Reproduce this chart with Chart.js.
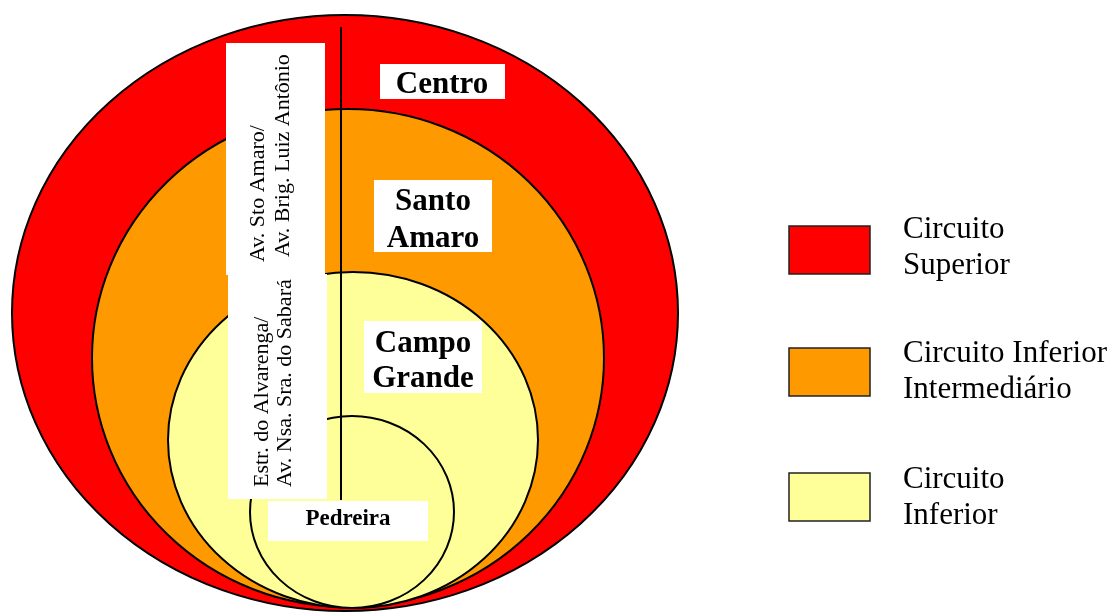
<!DOCTYPE html>
<html><head><meta charset="utf-8">
<script src="https://cdn.jsdelivr.net/npm/chart.js@4/dist/chart.umd.min.js"></script>
<style>html,body{margin:0;padding:0;background:#fff}#wrap{width:1117px;height:613px}</style>
</head><body><div id="wrap"><canvas id="c" width="1117" height="613"></canvas></div>
<script>
// ---- data ----
const zones = ['Centro', 'Santo Amaro', 'Campo Grande', 'Pedreira'];
const zoneLabelLines = [['Centro'], ['Santo', 'Amaro'], ['Campo', 'Grande'], ['Pedreira']];
const zoneCircuit = [0, 1, 2, 2];
const centerX = [345, 348, 353, 352];
const centerY = [313, 358, 440, 512];
const radiusX = [333, 256, 185, 102];
const radiusY = [298, 249, 168, 96];
const circuitLabels = [['Circuito', 'Superior'], ['Circuito Inferior', 'Intermediário'], ['Circuito', 'Inferior']];
const circuitColors = ['#FF0000', '#FF9900', '#FFFF99'];
const roadLabels = [['Av. Sto Amaro/', 'Av. Brig. Luiz Antônio'], ['Estr. do Alvarenga/', 'Av. Nsa. Sra. do Sabará']];
const dividerX = [341, 341];
const dividerY = [27, 500];

// ---- layout (pixels) ----
const zoneBoxes = [
  {r: [380, 64, 125, 35], cx: 442, base: [93], font: 'bold 31px "Liberation Serif"'},
  {r: [374, 180, 118, 72], cx: 433, base: [210, 247], font: 'bold 31px "Liberation Serif"'},
  {r: [364, 321, 118, 72], cx: 423, base: [352, 387], font: 'bold 31px "Liberation Serif"'},
  {r: [268, 501, 160, 40], cx: 348, base: [525], font: 'bold 23px "Liberation Serif"'}
];
const roadBoxes = [
  {r: [226, 43, 99, 232], xs: [258, 283], start: [262, 257], font: '22px "Liberation Serif"'},
  {r: [228, 274, 99, 225], xs: [262, 285], start: [487, 487], font: '22px "Liberation Serif"'}
];
const legendLayout = {sx: 789, sw: 81, sh: 48, tops: [226, 348, 473], tx: 903, firstBase: [238, 362, 488], lh: 36, font: '31px "Liberation Serif"'};

const diagramPlugin = {
  id: 'diagram',
  beforeDatasetsDraw(chart) {
    const ctx = chart.ctx, xs = chart.scales.x, ys = chart.scales.y;
    ctx.save();
    for (let i = 0; i < zones.length; i++) {
      const cx = xs.getPixelForValue(centerX[i]);
      const cy = ys.getPixelForValue(centerY[i]);
      const rx = Math.abs(xs.getPixelForValue(centerX[i] + radiusX[i]) - cx);
      const ry = Math.abs(ys.getPixelForValue(centerY[i] + radiusY[i]) - cy);
      ctx.beginPath();
      ctx.ellipse(cx, cy, rx, ry, 0, 0, Math.PI * 2);
      ctx.fillStyle = circuitColors[zoneCircuit[i]];
      ctx.fill();
      ctx.lineWidth = 2;
      ctx.strokeStyle = '#000';
      ctx.stroke();
    }
    ctx.restore();
  },
  afterDatasetsDraw(chart) {
    const ctx = chart.ctx;
    ctx.save();
    // road label boxes (rotated text)
    roadBoxes.forEach((b, i) => {
      ctx.fillStyle = '#fff';
      ctx.fillRect(b.r[0], b.r[1], b.r[2], b.r[3]);
      ctx.fillStyle = '#000';
      ctx.font = b.font;
      ctx.textAlign = 'left';
      ctx.textBaseline = 'middle';
      roadLabels[i].forEach((t, j) => {
        ctx.save();
        ctx.translate(b.xs[j], b.start[j]);
        ctx.rotate(-Math.PI / 2);
        ctx.fillText(t, 0, 0);
        ctx.restore();
      });
    });
    // zone label boxes
    zoneBoxes.forEach((b, i) => {
      ctx.fillStyle = '#fff';
      ctx.fillRect(b.r[0], b.r[1], b.r[2], b.r[3]);
      ctx.fillStyle = '#000';
      ctx.font = b.font;
      ctx.textAlign = 'center';
      ctx.textBaseline = 'alphabetic';
      zoneLabelLines[i].forEach((t, j) => ctx.fillText(t, b.cx, b.base[j]));
    });
    // legend
    const L = legendLayout;
    circuitLabels.forEach((lines, i) => {
      ctx.fillStyle = circuitColors[i];
      ctx.fillRect(L.sx, L.tops[i], L.sw, L.sh);
      ctx.lineWidth = 1.5;
      ctx.strokeStyle = '#222';
      ctx.strokeRect(L.sx, L.tops[i], L.sw, L.sh);
      ctx.fillStyle = '#000';
      ctx.font = L.font;
      ctx.textAlign = 'left';
      ctx.textBaseline = 'alphabetic';
      lines.forEach((t, j) => ctx.fillText(t, L.tx, L.firstBase[i] + j * L.lh));
    });
    ctx.restore();
  }
};

new Chart(document.getElementById('c'), {
  type: 'scatter',
  data: {
    datasets: [{
      type: 'line',
      label: 'divisa',
      data: dividerX.map((x, i) => ({x: x, y: dividerY[i]})),
      borderColor: '#000',
      borderWidth: 2,
      pointRadius: 0,
      fill: false
    }]
  },
  options: {
    responsive: false,
    devicePixelRatio: 1,
    animation: false,
    layout: {padding: 0},
    plugins: {legend: {display: false}, tooltip: {enabled: false}},
    scales: {
      x: {type: 'linear', min: 0, max: 1117, display: false},
      y: {type: 'linear', min: 0, max: 613, reverse: true, display: false}
    }
  },
  plugins: [diagramPlugin]
});
</script>
</body></html>
